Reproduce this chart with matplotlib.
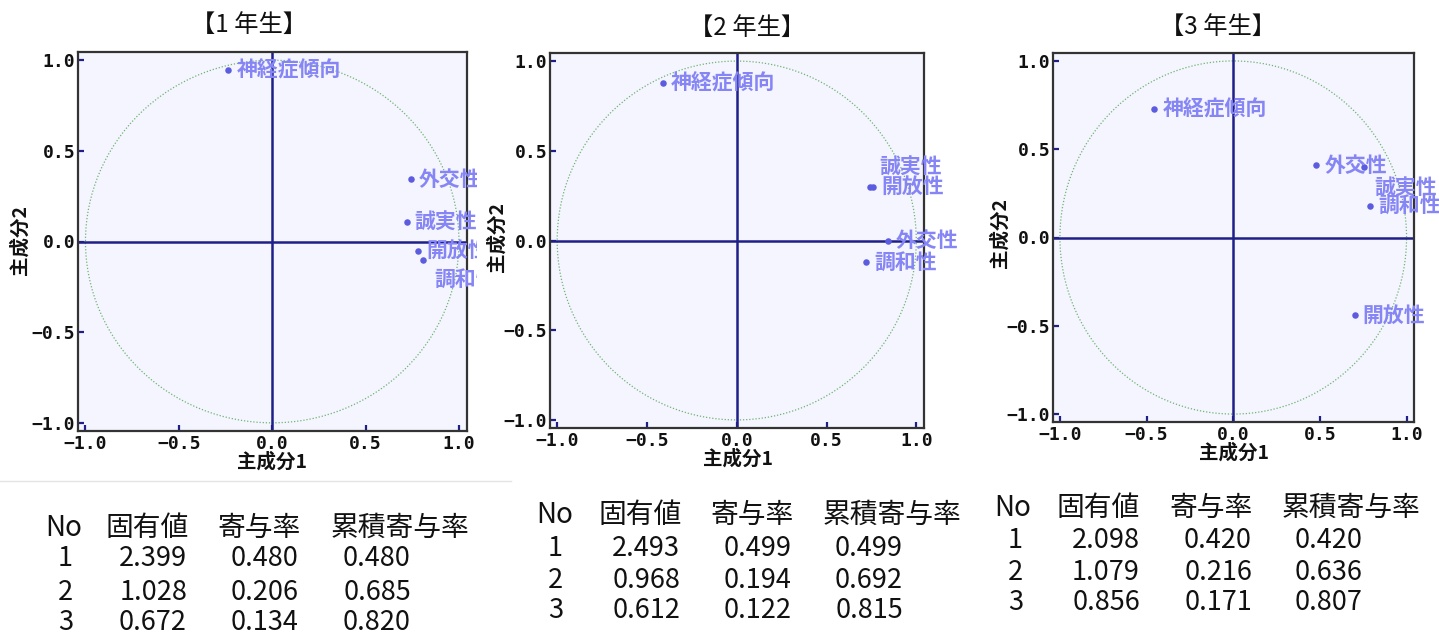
import matplotlib
matplotlib.use("Agg")
import matplotlib.pyplot as plt
from matplotlib.patches import Circle, Rectangle
import numpy as np

plt.rcParams['font.family'] = ['Noto Sans CJK JP', 'DejaVu Sans']

# ---------------- data ----------------
titles = ["【1 年生】", "【2 年生】", "【3 年生】"]
traits = ["神経症傾向", "外交性", "誠実性", "開放性", "調和性"]

pc1_g1 = [-0.235, 0.743, 0.720, 0.780, 0.810]
pc2_g1 = [0.945, 0.343, 0.110, -0.050, -0.100]

pc1_g2 = [-0.410, 0.840, 0.740, 0.760, 0.720]
pc2_g2 = [0.880, 0.000, 0.300, 0.300, -0.120]

pc1_g3 = [-0.455, 0.480, 0.755, 0.700, 0.790]
pc2_g3 = [0.730, 0.410, 0.400, -0.440, 0.180]

table_header = ["No", "固有値", "寄与率", "累積寄与率"]
comp_no = ["1", "2", "3"]
eig_g1 = [2.399, 1.028, 0.672]
contrib_g1 = [0.480, 0.206, 0.134]
cum_g1 = [0.480, 0.685, 0.820]
eig_g2 = [2.493, 0.968, 0.612]
contrib_g2 = [0.499, 0.194, 0.122]
cum_g2 = [0.499, 0.692, 0.815]
eig_g3 = [2.098, 1.079, 0.856]
contrib_g3 = [0.420, 0.216, 0.171]
cum_g3 = [0.420, 0.636, 0.807]

xticks = [-1.0, -0.5, 0.0, 0.5, 1.0]
yticks = [-1.0, -0.5, 0.0, 0.5, 1.0]

# ---------------- layout / style ----------------
W, H = 1439, 635
fig = plt.figure(figsize=(W / 100, H / 100), dpi=100)
fig.patch.set_facecolor('white')

def fx(p):
    return p / W

def fy(p):
    return 1 - p / H

panels = [
    dict(box=(78, 52, 467, 431), title=(249, 25), xl=(272, 462), yl=(20, 240),
         clip=477, pc1=pc1_g1, pc2=pc2_g1,
         offs={"調和性": (11, -20)},
         tab=dict(hy=528, rows=[558, 592, 623], cols=[64, 147, 259, 400],
                  rights=[73, 187, 299, 411]),
         eig=eig_g1, con=contrib_g1, cum=cum_g1),
    dict(box=(550, 53, 924, 428), title=(747, 28), xl=(738, 459), yl=(497, 237),
         clip=W, pc1=pc1_g2, pc2=pc2_g2,
         offs={"誠実性": (10, 20)},
         tab=dict(hy=515, rows=[548, 580, 610], cols=[555, 640, 752, 892],
                  rights=[563, 680, 792, 903]),
         eig=eig_g2, con=contrib_g2, cum=cum_g2),
    dict(box=(1053, 53, 1414, 422), title=(1218, 27), xl=(1234, 453), yl=(1000, 233),
         clip=W, pc1=pc1_g3, pc2=pc2_g3,
         offs={"誠実性": (10, -20)},
         tab=dict(hy=508, rows=[540, 572, 602], cols=[1013, 1098, 1211, 1351],
                  rights=[1023, 1140, 1252, 1363]),
         eig=eig_g3, con=contrib_g3, cum=cum_g3),
]

navy = '#1f1f8a'
pt_color = '#5c5ce0'
lab_color = '#8585f5'
bg = '#f5f5ff'

for i, p in enumerate(panels):
    l, t, r, b = p['box']
    ax = fig.add_axes([fx(l), fy(b), fx(r - l), (b - t) / H])
    ax.set_facecolor(bg)
    ax.set_xlim(-1.04, 1.043)
    ax.set_ylim(-1.045, 1.045)
    ax.axhline(0, color=navy, lw=1.8, zorder=2)
    ax.axvline(0, color=navy, lw=1.8, zorder=2)
    ax.add_patch(Circle((0, 0), 1.0, fill=False, ec='#6fb56f', lw=0.9,
                        ls=(0, (1, 1.5)), zorder=1))
    ax.scatter(p['pc1'], p['pc2'], s=22, color=pt_color, zorder=3, lw=0)
    cliprect = Rectangle((0, 0), fx(p['clip']), 1, transform=fig.transFigure)
    for name, x, y in zip(traits, p['pc1'], p['pc2']):
        dx, dy = p['offs'].get(name, (8, 0))
        txt = ax.annotate(name, (x, y), xytext=(dx * 0.72, dy * 0.72),
                          textcoords='offset points', ha='left', va='center',
                          fontsize=15, fontweight='bold', color=lab_color,
                          annotation_clip=False, zorder=4)
        txt.set_clip_on(True)
        txt.set_clip_path(cliprect)
    ax.set_xticks(xticks)
    ax.set_yticks(yticks)
    ax.set_xticklabels([f"{v:.1f}".replace('-', '\u2212') for v in xticks])
    ax.set_yticklabels([f"{v:.1f}".replace('-', '\u2212') for v in yticks])
    for lab in ax.get_xticklabels() + ax.get_yticklabels():
        lab.set_fontfamily('DejaVu Sans Mono')
        lab.set_fontweight('bold')
        lab.set_fontsize(13)
        lab.set_color('#111111')
    ax.tick_params(direction='in', length=4, width=1.6, color=navy, pad=3,
                   top=False, right=False)
    ax.tick_params(axis='y', pad=2)
    for s in ax.spines.values():
        s.set_color('#333333')
        s.set_linewidth(1.6)

    fig.text(fx(p['title'][0]), fy(p['title'][1]), titles[i], ha='center',
             va='center', fontsize=17.5, color='#111111')
    fig.text(fx(p['xl'][0]), fy(p['xl'][1]), "主成分1", ha='center', va='center',
             fontsize=14, fontweight='bold', color='#111111')
    fig.text(fx(p['yl'][0]), fy(p['yl'][1]), "主成分2", ha='center', va='center',
             fontsize=14, fontweight='bold', color='#111111', rotation=90)

    tb = p['tab']
    for c, h in zip(tb['cols'], table_header):
        fig.text(fx(c), fy(tb['hy']), h, ha='center', va='center',
                 fontsize=20, color='#111111')
    for j, yrow in enumerate(tb['rows']):
        vals = [comp_no[j], f"{p['eig'][j]:.3f}", f"{p['con'][j]:.3f}",
                f"{p['cum'][j]:.3f}"]
        for rx, v in zip(tb['rights'], vals):
            fig.text(fx(rx), fy(yrow), v, ha='right', va='center',
                     fontsize=19.5, color='#111111')

# faint separator line under first screenshot
fig.add_artist(plt.Line2D([0, fx(511)], [fy(481), fy(481)], color='#e4e4e4',
                          lw=1, transform=fig.transFigure))

fig.savefig("out.png", dpi=100, facecolor='white')
